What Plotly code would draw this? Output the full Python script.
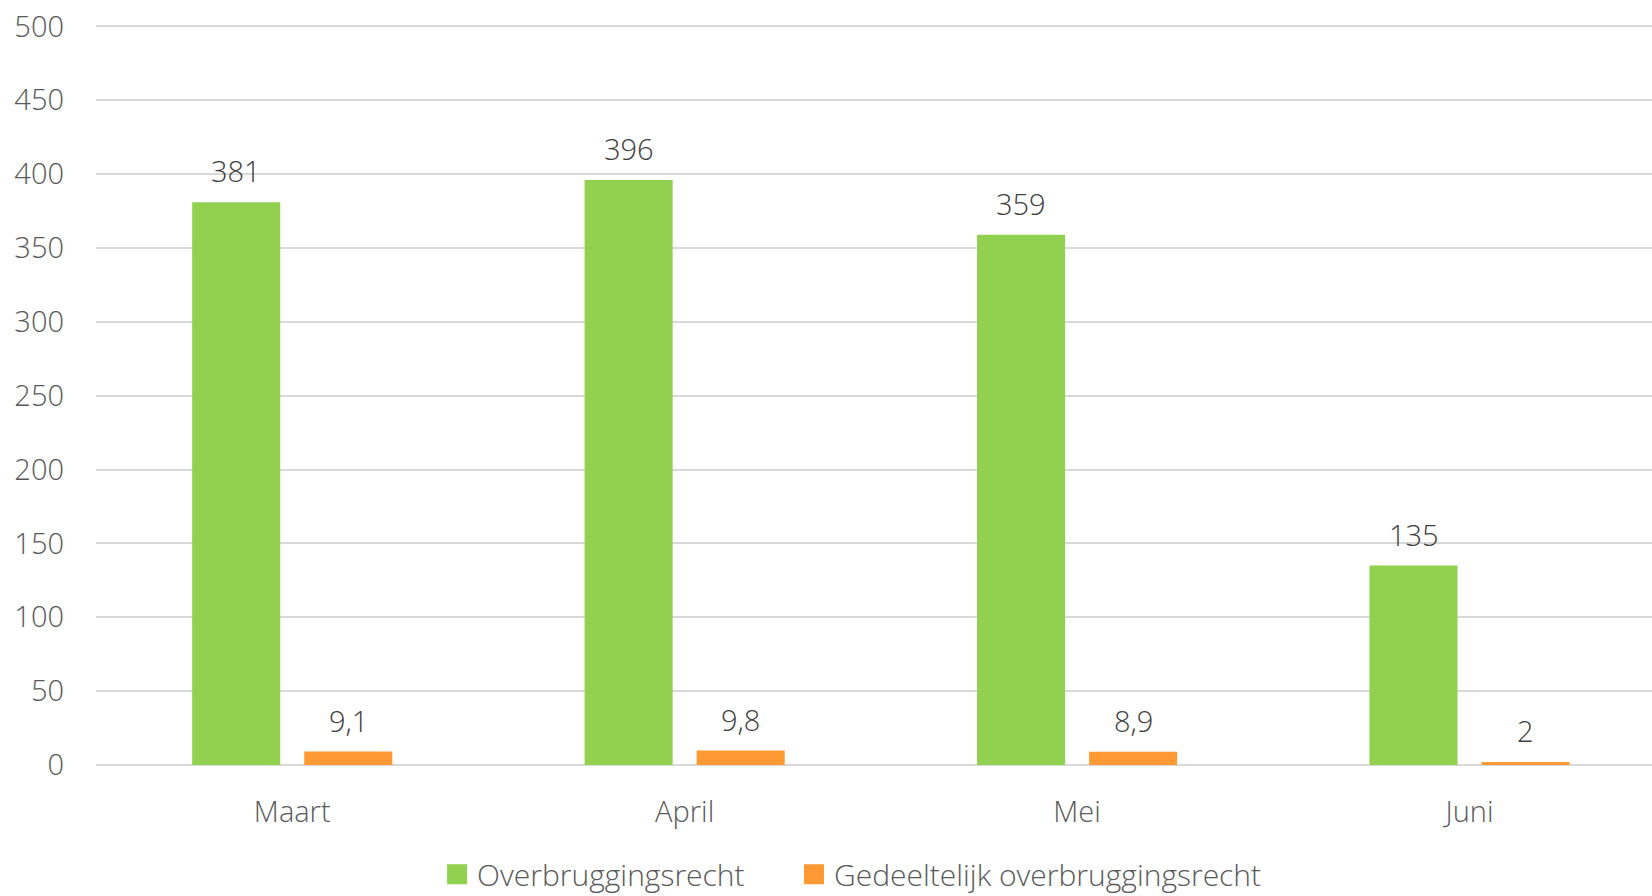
import plotly.graph_objects as go

maanden = ['Maart', 'April', 'Mei', 'Juni']
overbrugging = [381, 396, 359, 135]
gedeeltelijk = [9.1, 9.8, 8.9, 2]

reeksen = [
    ('Overbruggingsrecht', overbrugging, '#92D050', -56, 'legend'),
    ('Gedeeltelijk overbruggingsrecht', gedeeltelijk, '#FF9933', 56, 'legend2'),
]

font_naam = 'Open Sans'
tekstkleur = '#595959'

fig = go.Figure()
for naam, waarden, kleur, verschuiving, leg in reeksen:
    fig.add_trace(go.Bar(
        x=maanden, y=waarden, name=naam, showlegend=False,
        marker=dict(color=kleur, line=dict(width=0)),
        hoverinfo='x+y',
    ))
    # alleen voor de legenda (groter vierkantje)
    fig.add_trace(go.Scatter(
        x=[None], y=[None], mode='markers', name=naam, legend=leg,
        marker=dict(symbol='square', size=16, color=kleur, line=dict(color=kleur, width=4)),
    ))
    for m, v in zip(maanden, waarden):
        fig.add_annotation(
            x=m, y=v, xref='x', yref='y', text=str(v).replace('.', ','),
            showarrow=False, xshift=verschuiving, yanchor='bottom', yshift=10,
            font=dict(size=29, color='#404040', family=font_naam, weight=300),
        )

legenda_stijl = dict(orientation='h', xanchor='left', y=-0.147, yanchor='middle',
                     font=dict(size=30, color=tekstkleur, weight=300), itemsizing='trace',
                     bgcolor='rgba(0,0,0,0)')

fig.update_layout(
    width=1652, height=896,
    margin=dict(l=96, r=0, t=22, b=131, autoexpand=False),
    paper_bgcolor='white', plot_bgcolor='white',
    barmode='group', bargap=0.429, bargroupgap=0.214,
    font=dict(family=font_naam, color=tekstkleur, size=29, weight=300),
    showlegend=True,
    legend=dict(x=0.2192, **legenda_stijl),
    legend2=dict(x=0.4486, **legenda_stijl),
)
fig.update_yaxes(range=[0, 503], dtick=50, showgrid=True, gridcolor='#D9D9D9', gridwidth=2,
                 zeroline=True, zerolinecolor='#D9D9D9', zerolinewidth=2,
                 showline=False, ticks='', ticklabelstandoff=31, automargin=False,
                 tickfont=dict(size=29, color=tekstkleur, weight=300))
fig.update_xaxes(range=[-0.5, 3.465], showline=False, ticks='', ticklabelstandoff=27,
                 automargin=False, tickfont=dict(size=29, color=tekstkleur, weight=300))

fig.write_html('out.html', config={'displayModeBar': False},
               post_script="document.body.style.margin='0';")
